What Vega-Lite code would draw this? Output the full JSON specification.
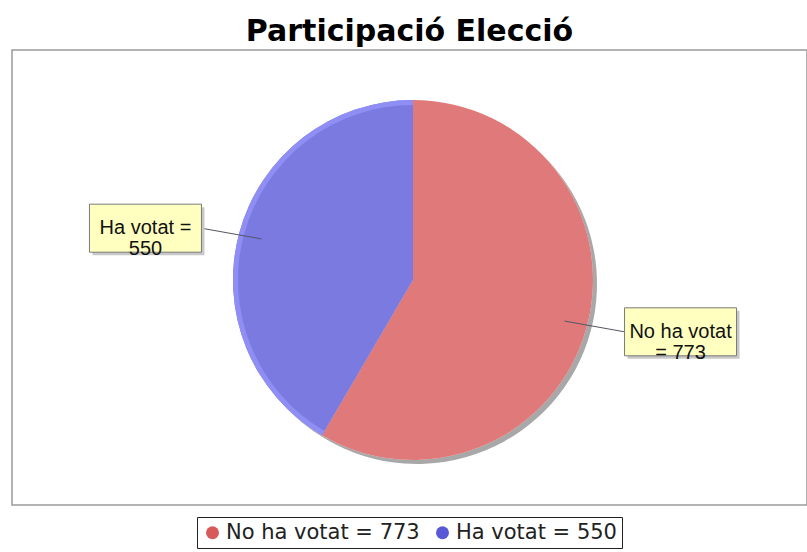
{
  "$schema": "https://vega.github.io/schema/vega-lite/v6.json",
  "width": 795,
  "height": 455,
  "autosize": {"type": "none"},
  "padding": {"left": 12, "top": 50, "right": 0, "bottom": 47},
  "background": "white",
  "title": {
    "text": "Participació Elecció",
    "font": "DejaVu Sans",
    "fontSize": 30,
    "fontWeight": "bold",
    "color": "#000000",
    "anchor": "middle",
    "baseline": "alphabetic",
    "offset": -21
  },
  "config": {
    "view": {"stroke": "#9a9a9a", "strokeWidth": 1.5}
  },
  "data": {
    "values": [
      {"categoria": "No ha votat", "vots": 773, "llegenda": "No ha votat = 773", "linies": ["No ha votat", "= 773"]},
      {"categoria": "Ha votat", "vots": 550, "llegenda": "Ha votat = 550", "linies": ["Ha votat =", "550"]}
    ]
  },
  "transform": [
    {"joinaggregate": [{"op": "sum", "field": "vots", "as": "total"}]},
    {"window": [{"op": "sum", "field": "vots", "as": "acum"}], "sort": [{"field": "vots", "order": "descending"}], "frame": [null, 0]},
    {"calculate": "2*PI*(datum.acum - datum.vots/2)/datum.total", "as": "mig"},
    {"calculate": "1.54*sin(datum.mig)", "as": "lx"},
    {"calculate": "1.1*cos(datum.mig)", "as": "ly"},
    {"calculate": "datum.lx - 0.311*(datum.lx > 0 ? 1 : -1)", "as": "ex"},
    {"calculate": "0.872*sin(datum.mig)", "as": "ax"},
    {"calculate": "0.872*cos(datum.mig)", "as": "ay"}
  ],
  "layer": [
    {
      "mark": {"type": "arc", "radius": 180, "fill": "#a8a8a8", "xOffset": 4, "yOffset": 4},
      "encoding": {
        "x": {"datum": 0, "type": "quantitative", "scale": {"domain": [-2.2278, 2.1889], "nice": false, "zero": false}, "axis": null},
        "y": {"datum": 0, "type": "quantitative", "scale": {"domain": [-1.25, 1.2778], "nice": false, "zero": false}, "axis": null},
        "theta": {"field": "vots", "type": "quantitative", "stack": true},
        "order": {"field": "vots", "sort": "descending"}
      }
    },
    {
      "mark": {"type": "arc", "radius": 180, "fill": "#ffffff"},
      "encoding": {
        "x": {"datum": 0, "type": "quantitative"},
        "y": {"datum": 0, "type": "quantitative"},
        "theta": {"field": "vots", "type": "quantitative", "stack": true},
        "order": {"field": "vots", "sort": "descending"}
      }
    },
    {
      "mark": {"type": "arc", "radius": 180, "opacity": 0.8},
      "encoding": {
        "x": {"datum": 0, "type": "quantitative"},
        "y": {"datum": 0, "type": "quantitative"},
        "theta": {"field": "vots", "type": "quantitative", "stack": true},
        "order": {"field": "vots", "sort": "descending"},
        "color": {
          "field": "llegenda",
          "type": "nominal",
          "scale": {"domain": ["No ha votat = 773", "Ha votat = 550"], "range": ["#d85959", "#5959d8"]},
          "legend": {
            "orient": "none",
            "legendX": 185,
            "legendY": 467,
            "direction": "horizontal",
            "title": null,
            "symbolType": "circle",
            "symbolSize": 169,
            "symbolOpacity": 1,
            "labelFont": "DejaVu Sans",
            "labelFontSize": 21,
            "labelLimit": 400,
            "labelColor": "#222222",
            "labelOffset": 3,
            "columnPadding": 12,
            "strokeColor": "#222222",
            "padding": 5
          }
        }
      }
    },
    {
      "mark": {"type": "arc", "radius": 180, "radius2": 175},
      "encoding": {
        "x": {"datum": 0, "type": "quantitative"},
        "y": {"datum": 0, "type": "quantitative"},
        "theta": {"field": "vots", "type": "quantitative", "stack": true},
        "order": {"field": "vots", "sort": "descending"},
        "fill": {"condition": {"test": "datum.categoria === 'Ha votat'", "value": "#8e8ef4"}, "value": "transparent"}
      }
    },
    {
      "mark": {"type": "rule", "color": "#555566", "strokeWidth": 1},
      "encoding": {
        "x": {"field": "ex", "type": "quantitative"},
        "y": {"field": "ly", "type": "quantitative"},
        "x2": {"field": "ax"},
        "y2": {"field": "ay"}
      }
    },
    {
      "mark": {"type": "point", "shape": "M-1,-0.4286L1,-0.4286L1,0.4286L-1,0.4286Z", "size": 12544, "filled": true, "fill": "#c8c8c8", "opacity": 1, "strokeWidth": 0, "xOffset": 3, "yOffset": 3},
      "encoding": {
        "x": {"field": "lx", "type": "quantitative"},
        "y": {"field": "ly", "type": "quantitative"}
      }
    },
    {
      "mark": {"type": "point", "shape": "M-1,-0.4286L1,-0.4286L1,0.4286L-1,0.4286Z", "size": 12544, "filled": true, "fill": "#ffffc0", "stroke": "#7a7a7a", "strokeWidth": 1, "opacity": 1},
      "encoding": {
        "x": {"field": "lx", "type": "quantitative"},
        "y": {"field": "ly", "type": "quantitative"}
      }
    },
    {
      "mark": {"type": "text", "font": "Liberation Sans", "fontSize": 20, "lineHeight": 21, "align": "center", "baseline": "middle", "color": "#111111"},
      "encoding": {
        "x": {"field": "lx", "type": "quantitative"},
        "y": {"field": "ly", "type": "quantitative"},
        "text": {"field": "linies"}
      }
    }
  ]
}
